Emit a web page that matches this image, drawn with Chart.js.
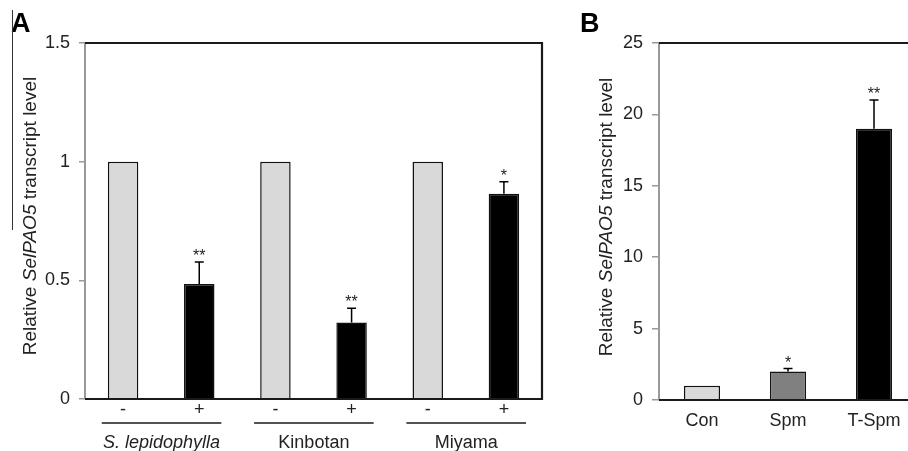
<!DOCTYPE html>
<html>
<head>
<meta charset="utf-8">
<script src="https://cdn.jsdelivr.net/npm/chart.js@4"></script>
<style>
  html, body { margin: 0; padding: 0; background: #fff; width: 908px; height: 451px; overflow: hidden; }
  canvas { position: absolute; top: 0; }
  #chartA { left: 0; }
  #chartB { left: 570px; }
</style>
</head>
<body>
<canvas id="chartA" width="560" height="451"></canvas>
<canvas id="chartB" width="360" height="451"></canvas>
<script>
// panel A data
const groupsA = ['S. lepidophylla', 'Kinbotan', 'Miyama'];
const controlA = [1, 1, 1];
const treatedA = [0.485, 0.322, 0.865];
const errorA = [0.092, 0.06, 0.05];
const starsA = ['**', '**', '*'];
const yTicksA = [0, 0.5, 1, 1.5];

// panel B data
const categoriesB = ['Con', 'Spm', 'T-Spm'];
const valuesB = [1, 2.0, 19.0];
const errorB = [0, 0.2, 2.0];
const starsB = ['', '*', '**'];
const yTicksB = [0, 5, 10, 15, 20, 25];

const FONT = "'Liberation Sans', Arial, sans-serif";
const TEXT = '#222';

// draw rotated axis title with italic gene name
function drawTitle(ctx, cx, cy) {
    const parts = [['Relative ', ''], ['SelPAO5', 'italic '], [' transcript level', '']];
    let total = 0;
    parts.forEach(p => { ctx.font = p[1] + '19px ' + FONT; total += ctx.measureText(p[0]).width; });
    ctx.save();
    ctx.translate(cx, cy);
    ctx.rotate(-Math.PI / 2);
    ctx.fillStyle = TEXT;
    ctx.textBaseline = 'middle';
    ctx.textAlign = 'left';
    let x = -total / 2;
    parts.forEach(p => {
        ctx.font = p[1] + '19px ' + FONT;
        ctx.fillText(p[0], x, 0);
        x += ctx.measureText(p[0]).width;
    });
    ctx.restore();
}

function drawErrors(chart, errs, stars) {
    const ctx = chart.ctx;
    const meta = chart.getDatasetMeta(0);
    const y = chart.scales.y;
    ctx.save();
    meta.data.forEach((bar, i) => {
        const v = chart.data.datasets[0].data[i];
        const e = errs[i];
        const s = stars[i];
        if (e == null && !s) return;
        let top = y.getPixelForValue(v);
        if (e) {
            const yt = y.getPixelForValue(v + e);
            ctx.strokeStyle = '#000';
            ctx.lineWidth = 1.5;
            ctx.beginPath();
            ctx.moveTo(bar.x, top);
            ctx.lineTo(bar.x, yt);
            ctx.moveTo(bar.x - 4.5, yt);
            ctx.lineTo(bar.x + 4.5, yt);
            ctx.stroke();
            top = yt;
        }
        if (s) {
            ctx.fillStyle = TEXT;
            ctx.font = '16px ' + FONT;
            ctx.textAlign = 'center';
            ctx.textBaseline = 'alphabetic';
            ctx.fillText(s, bar.x, top - 1);
        }
    });
    ctx.restore();
}

function drawFrame(ctx, area, withRight) {
    ctx.save();
    ctx.strokeStyle = '#1a1a1a';
    ctx.lineWidth = 2.2;
    ctx.beginPath();
    ctx.moveTo(area.left, area.top);
    ctx.lineTo(area.right, area.top);
    if (withRight) {
        ctx.lineTo(area.right, area.bottom);
    } else {
        ctx.moveTo(area.right, area.bottom);
    }
    ctx.lineTo(area.left, area.bottom);
    ctx.stroke();
    ctx.restore();
}

// ---------- panel A ----------
const labelsA = [];
const dataA = [];
const errsA = [];
const starA = [];
const colorsA = [];
groupsA.forEach((g, i) => {
    labelsA.push('-', '+');
    dataA.push(controlA[i], treatedA[i]);
    errsA.push(null, errorA[i]);
    starA.push('', starsA[i]);
    colorsA.push('#d9d9d9', '#000');
});

const extrasA = {
    id: 'extrasA',
    afterDatasetsDraw(chart) {
        const ctx = chart.ctx;
        const area = chart.chartArea;
        const x = chart.scales.x;
        drawErrors(chart, errsA, starA);
        drawFrame(ctx, area, true);

        // group underlines and names
        const w = x.getPixelForValue(1) - x.getPixelForValue(0);
        ctx.save();
        groupsA.forEach((g, i) => {
            const x1 = x.getPixelForValue(i * 2) - 0.28 * w;
            const x2 = x.getPixelForValue(i * 2 + 1) + 0.29 * w;
            ctx.strokeStyle = '#1a1a1a';
            ctx.lineWidth = 1.5;
            ctx.beginPath();
            ctx.moveTo(x1, area.bottom + 24);
            ctx.lineTo(x2, area.bottom + 24);
            ctx.stroke();
            ctx.fillStyle = TEXT;
            ctx.font = (i === 0 ? 'italic ' : '') + '18px ' + FONT;
            ctx.textAlign = 'center';
            ctx.textBaseline = 'middle';
            ctx.fillText(g, (x1 + x2) / 2, area.bottom + 44);
        });

        // panel letter and stray rule
        ctx.fillStyle = '#000';
        ctx.font = 'bold 27px ' + FONT;
        ctx.textAlign = 'left';
        ctx.textBaseline = 'alphabetic';
        ctx.fillText('A', 11, 32);
        ctx.strokeStyle = '#333';
        ctx.lineWidth = 1;
        ctx.beginPath();
        ctx.moveTo(12.5, 10);
        ctx.lineTo(12.5, 230);
        ctx.stroke();
        ctx.restore();

        drawTitle(ctx, area.left - 54, 216);
    }
};

new Chart(document.getElementById('chartA'), {
    type: 'bar',
    data: {
        labels: labelsA,
        datasets: [{
            data: dataA,
            backgroundColor: colorsA,
            borderColor: '#111',
            borderWidth: 1.5,
            barPercentage: 0.4,
            categoryPercentage: 1
        }]
    },
    options: {
        responsive: false,
        animation: false,
        devicePixelRatio: 1,
        layout: { padding: { top: 43, right: 18, left: 0, bottom: 0 } },
        plugins: { legend: { display: false }, tooltip: { enabled: false } },
        scales: {
            x: {
                grid: { display: false, drawTicks: false },
                border: { display: false },
                ticks: { color: TEXT, font: { size: 18, family: FONT }, padding: 0, maxRotation: 0 },
                afterFit(scale) { scale.height = 52; }
            },
            y: {
                min: 0,
                max: 1.5,
                afterBuildTicks(scale) { scale.ticks = yTicksA.map(v => ({ value: v })); },
                grid: { drawOnChartArea: false, drawTicks: true, tickLength: 6, color: '#999', lineWidth: 1.5 },
                border: { color: '#999', width: 2 },
                ticks: { color: TEXT, font: { size: 18, family: FONT }, padding: 9, callback: v => String(v) },
                afterFit(scale) { scale.width = 85; }
            }
        }
    },
    plugins: [extrasA]
});

// ---------- panel B ----------
const extrasB = {
    id: 'extrasB',
    afterDatasetsDraw(chart) {
        const ctx = chart.ctx;
        const area = chart.chartArea;
        drawErrors(chart, errorB, starsB);
        drawFrame(ctx, area, false);
        ctx.save();
        ctx.fillStyle = '#000';
        ctx.font = 'bold 27px ' + FONT;
        ctx.textAlign = 'left';
        ctx.textBaseline = 'alphabetic';
        ctx.fillText('B', 10, 32);
        ctx.restore();
        drawTitle(ctx, area.left - 52, 217);
    }
};

new Chart(document.getElementById('chartB'), {
    type: 'bar',
    data: {
        labels: categoriesB,
        datasets: [{
            data: valuesB,
            backgroundColor: ['#d9d9d9', '#808080', '#000'],
            borderColor: '#111',
            borderWidth: 1.5,
            barPercentage: 0.42,
            categoryPercentage: 1
        }]
    },
    options: {
        responsive: false,
        animation: false,
        devicePixelRatio: 1,
        layout: { padding: { top: 43, right: 13, left: 0, bottom: 0 } },
        plugins: { legend: { display: false }, tooltip: { enabled: false } },
        scales: {
            x: {
                grid: { display: false, drawTicks: false },
                border: { display: false },
                ticks: { color: TEXT, font: { size: 18, family: FONT }, padding: 10, maxRotation: 0 },
                afterFit(scale) { scale.height = 51; }
            },
            y: {
                min: 0,
                max: 25,
                afterBuildTicks(scale) { scale.ticks = yTicksB.map(v => ({ value: v })); },
                grid: { drawOnChartArea: false, drawTicks: true, tickLength: 7, color: '#999', lineWidth: 1.5 },
                border: { color: '#999', width: 2 },
                ticks: { color: TEXT, font: { size: 18, family: FONT }, padding: 9, callback: v => String(v) },
                afterFit(scale) { scale.width = 89; }
            }
        }
    },
    plugins: [extrasB]
});
</script>
</body>
</html>
